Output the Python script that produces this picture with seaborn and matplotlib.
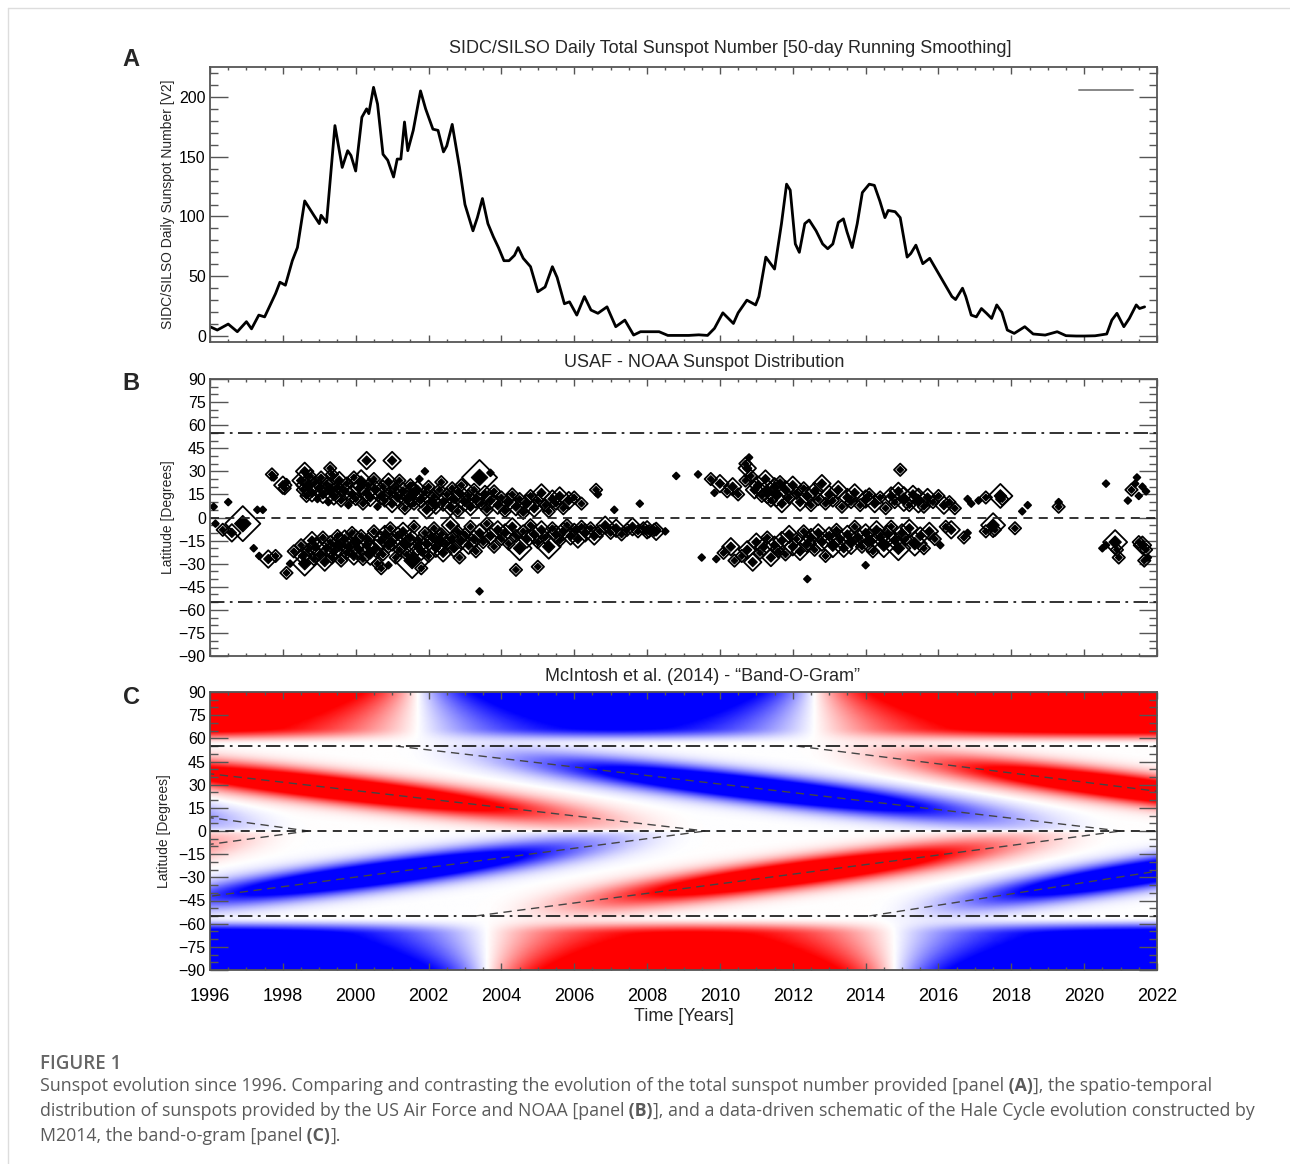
import numpy as np
import pandas as pd
import matplotlib.pyplot as plt
from matplotlib.lines import Line2D
from matplotlib.ticker import MultipleLocator
import seaborn as sns

# Panel A: SIDC/SILSO daily total sunspot number, 50-day smoothing
sn_year = [1996.0, 1996.2, 1996.5, 1996.75, 1997.0, 1997.14, 1997.34, 1997.5, 1997.8, 1997.92,
           1998.07, 1998.26, 1998.4, 1998.6, 1998.85, 1999.0, 1999.05, 1999.2, 1999.43, 1999.63,
           1999.78, 1999.87, 2000.0, 2000.17, 2000.3, 2000.36, 2000.49, 2000.6, 2000.75, 2000.88,
           2001.04, 2001.14, 2001.24, 2001.34, 2001.43, 2001.58, 2001.78, 2001.92, 2002.12, 2002.26,
           2002.41, 2002.5, 2002.65, 2002.85, 2003.0, 2003.22, 2003.34, 2003.48, 2003.63, 2003.78,
           2003.92, 2004.07, 2004.21, 2004.36, 2004.46, 2004.6, 2004.8, 2005.0, 2005.2, 2005.4,
           2005.53, 2005.73, 2005.87, 2006.07, 2006.28, 2006.46, 2006.65, 2006.9, 2007.14, 2007.39,
           2007.63, 2007.82, 2008.1, 2008.33, 2008.57, 2008.85, 2009.14, 2009.42, 2009.66, 2009.85,
           2010.08, 2010.37, 2010.5, 2010.74, 2010.98, 2011.07, 2011.26, 2011.5, 2011.69, 2011.83,
           2011.93, 2012.07, 2012.18, 2012.33, 2012.45, 2012.64, 2012.82, 2012.96, 2013.1, 2013.25,
           2013.39, 2013.49, 2013.63, 2013.77, 2013.91, 2014.1, 2014.24, 2014.39, 2014.53, 2014.62,
           2014.81, 2014.95, 2015.14, 2015.24, 2015.38, 2015.57, 2015.76, 2015.95, 2016.14, 2016.37,
           2016.47, 2016.66, 2016.75, 2016.9, 2017.04, 2017.18, 2017.32, 2017.46, 2017.6, 2017.74,
           2017.89, 2018.08, 2018.37, 2018.6, 2018.93, 2019.26, 2019.5, 2019.78, 2020.0, 2020.3,
           2020.62, 2020.76, 2020.9, 2021.09, 2021.24, 2021.43, 2021.52, 2021.66]
sn_value = [7.8, 5, 10, 3.6, 12, 6, 17.5, 16, 35.5, 45,
            42.5, 63, 74, 113, 101, 94, 101, 95, 176, 141,
            155, 151, 138, 183, 190, 186, 208, 194, 152, 147,
            133, 148, 148, 179, 155, 172, 205, 190, 173, 172,
            154, 159, 177, 141, 110, 88, 99, 115, 94, 83,
            74, 63, 63, 67.5, 74, 65, 58, 37, 41, 58,
            49, 27, 28.6, 17.5, 33, 21.7, 19, 24.4, 7.8, 13.3,
            0.8, 3.6, 3.6, 3.6, 0.5, 0.5, 0.5, 1, 0.5, 6.4,
            19.4, 10.5, 19.4, 30, 26, 33, 66, 56, 94, 127,
            122, 77, 70, 94, 97, 88, 77, 73, 77, 95,
            98, 87, 74, 94, 120, 127, 126, 113, 99, 105,
            104, 99, 66, 69, 76, 60.5, 65, 55, 45, 33,
            30.5, 40, 33, 17.5, 16, 23, 19, 14.7, 26, 20,
            5, 2.2, 7.8, 1.7, 0.8, 3.6, 0.3, 0, 0, 0.2,
            1.7, 13.3, 19, 7.8, 14.7, 26, 23, 24.4]

# Panel B: USAF/NOAA sunspot groups as (year, latitude, size class 1-5)
spots_cycle22 = [(1996.1, 7, 1), (1996.5, 10, 1), (1996.15, -4, 1), (1996.35, -8, 2),
                 (1996.6, -10, 3), (1996.9, -4, 5), (1996.9, -4, 2), (1997.3, 5, 1),
                 (1997.45, 5, 1), (1997.2, -20, 1), (1997.35, -25, 1)]
spots_north23 = [
    (1997.7, 28, 2), (1997.75, 26, 1), (1998.0, 21, 3), (1998.05, 19, 2), (1998.1, 23, 1),
    (1998.5, 24, 3), (1998.55, 18, 2), (1998.6, 30, 3), (1998.65, 14, 2), (1998.7, 21, 4),
    (1998.75, 27, 2), (1998.8, 16, 3), (1998.9, 23, 2), (1998.95, 12, 1), (1999.0, 19, 3),
    (1999.05, 26, 2), (1999.1, 15, 3), (1999.2, 22, 2), (1999.25, 10, 1), (1999.3, 18, 4),
    (1999.35, 28, 2), (1999.4, 14, 3), (1999.5, 20, 2), (1999.55, 24, 3), (1999.6, 11, 2),
    (1999.7, 17, 3), (1999.75, 22, 2), (1999.8, 8, 1), (1999.9, 15, 3), (1999.95, 26, 2),
    (2000.0, 12, 2), (2000.1, 19, 3), (2000.15, 23, 4), (2000.2, 9, 2), (2000.3, 16, 3),
    (2000.35, 21, 2), (2000.4, 13, 3), (2000.5, 25, 2), (2000.55, 18, 3), (2000.6, 7, 1),
    (2000.7, 14, 3), (2000.75, 20, 2), (2000.8, 11, 2), (2000.9, 23, 3), (2000.95, 16, 2),
    (2001.0, 9, 3), (2001.1, 19, 2), (2001.15, 13, 3), (2001.2, 24, 2), (2001.3, 17, 3),
    (2001.35, 6, 2), (2001.4, 12, 3), (2001.5, 21, 2), (2001.55, 15, 4), (2001.6, 9, 2),
    (2001.7, 18, 3), (2001.75, 25, 1), (2001.8, 12, 3), (2001.9, 16, 2), (2001.95, 5, 3),
    (2002.0, 20, 2), (2002.1, 11, 3), (2002.15, 14, 2), (2002.2, 8, 3), (2002.3, 18, 2),
    (2002.35, 23, 2), (2002.4, 10, 3), (2002.5, 15, 2), (2002.6, 7, 3), (2002.65, 19, 2),
    (2002.7, 12, 3), (2002.8, 4, 2), (2002.85, 16, 3), (2002.9, 21, 2), (2003.0, 10, 3),
    (2003.1, 14, 2), (2003.15, 7, 3), (2003.25, 18, 2), (2003.3, 12, 3), (2003.4, 26, 5),
    (2003.45, 9, 2), (2003.55, 15, 3), (2003.6, 5, 2), (2003.7, 11, 3), (2003.8, 17, 2),
    (2003.9, 8, 3), (2004.0, 13, 2), (2004.1, 4, 2), (2004.2, 10, 3), (2004.3, 15, 2),
    (2004.4, 7, 3), (2004.5, 12, 2), (2004.6, 3, 2), (2004.7, 9, 3), (2004.8, 14, 2),
    (2004.9, 6, 3), (2005.0, 11, 2), (2005.1, 16, 3), (2005.2, 8, 2), (2005.3, 4, 2),
    (2005.4, 12, 3), (2005.5, 9, 2), (2005.6, 14, 3), (2005.7, 6, 2), (2005.85, 11, 3),
    (2006.0, 13, 2), (2006.2, 9, 2), (2006.6, 18, 2), (2006.65, 15, 1), (2007.1, 5, 1),
    (2007.8, 9, 1), (2000.3, 37, 3), (2001.0, 37, 3), (1999.3, 32, 2), (2001.9, 30, 1),
    (2003.7, 29, 1)]
spots_south23 = [
    (1997.6, -27, 3), (1997.8, -25, 2), (1998.1, -36, 2), (1998.2, -30, 1), (1998.3, -22, 2),
    (1998.5, -18, 2), (1998.55, -25, 3), (1998.6, -30, 4), (1998.7, -21, 2), (1998.8, -15, 3),
    (1998.85, -27, 2), (1998.9, -19, 3), (1999.0, -24, 2), (1999.1, -13, 2), (1999.15, -29, 3),
    (1999.2, -20, 3), (1999.3, -16, 2), (1999.35, -26, 2), (1999.4, -22, 3), (1999.5, -12, 2),
    (1999.55, -18, 4), (1999.6, -28, 2), (1999.7, -14, 3), (1999.75, -23, 2), (1999.8, -19, 3),
    (1999.9, -10, 2), (1999.95, -25, 3), (2000.0, -16, 4), (2000.1, -21, 3), (2000.15, -12, 2),
    (2000.2, -27, 2), (2000.3, -18, 3), (2000.35, -14, 2), (2000.4, -23, 4), (2000.5, -9, 2),
    (2000.55, -20, 3), (2000.6, -30, 2), (2000.7, -15, 3), (2000.75, -24, 2), (2000.8, -11, 3),
    (2000.9, -19, 2), (2000.95, -7, 2), (2001.0, -16, 3), (2001.1, -26, 2), (2001.15, -12, 3),
    (2001.2, -21, 2), (2001.3, -9, 3), (2001.35, -17, 4), (2001.4, -24, 2), (2001.5, -13, 3),
    (2001.55, -28, 5), (2001.6, -6, 2), (2001.7, -19, 3), (2001.75, -15, 2), (2001.8, -22, 3),
    (2001.9, -10, 2), (2001.95, -17, 3), (2002.0, -25, 2), (2002.1, -13, 3), (2002.15, -7, 2),
    (2002.2, -20, 3), (2002.3, -15, 4), (2002.35, -11, 2), (2002.4, -23, 3), (2002.5, -17, 2),
    (2002.6, -5, 3), (2002.65, -13, 2), (2002.7, -20, 3), (2002.8, -9, 2), (2002.85, -26, 2),
    (2002.9, -15, 3), (2003.0, -11, 2), (2003.1, -18, 3), (2003.15, -6, 2), (2003.25, -14, 3),
    (2003.3, -22, 2), (2003.4, -10, 3), (2003.5, -16, 2), (2003.6, -4, 2), (2003.7, -12, 3),
    (2003.8, -19, 2), (2003.9, -8, 3), (2004.0, -14, 2), (2004.1, -10, 3), (2004.2, -17, 2),
    (2004.3, -6, 3), (2004.4, -12, 2), (2004.5, -20, 4), (2004.6, -9, 2), (2004.7, -14, 3),
    (2004.8, -5, 2), (2004.9, -11, 3), (2005.0, -16, 2), (2005.1, -8, 3), (2005.2, -13, 2),
    (2005.3, -19, 4), (2005.4, -7, 2), (2005.5, -11, 3), (2005.6, -15, 2), (2005.7, -9, 3),
    (2005.8, -5, 2), (2005.9, -12, 3), (2006.0, -8, 2), (2006.1, -14, 3), (2006.2, -6, 2),
    (2006.3, -10, 3), (2006.45, -7, 2), (2006.55, -12, 3), (2006.7, -9, 2), (2006.85, -5, 3),
    (2007.0, -10, 2), (2007.15, -7, 3), (2007.3, -11, 2), (2007.45, -8, 2), (2007.6, -6, 3),
    (2007.75, -9, 2), (2007.9, -7, 2), (2008.05, -9, 2), (2008.2, -8, 2), (2008.5, -9, 1),
    (2003.4, -48, 1), (2004.4, -34, 2), (2005.0, -32, 2), (2001.8, -33, 2), (2000.7, -33, 2),
    (2000.9, -31, 1)]
spots_north24 = [
    (2008.8, 27, 1), (2009.4, 28, 1), (2009.75, 25, 2), (2009.85, 16, 1), (2010.0, 22, 3),
    (2010.2, 17, 2), (2010.35, 20, 3), (2010.5, 15, 2), (2010.7, 24, 2), (2010.75, 32, 3),
    (2010.85, 27, 2), (2010.95, 18, 3), (2011.05, 21, 3), (2011.15, 14, 2), (2011.25, 25, 3),
    (2011.3, 17, 4), (2011.4, 11, 2), (2011.5, 20, 3), (2011.55, 15, 4), (2011.65, 23, 2),
    (2011.7, 9, 3), (2011.8, 18, 3), (2011.9, 13, 2), (2012.0, 21, 3), (2012.1, 16, 2),
    (2012.2, 10, 3), (2012.3, 19, 2), (2012.4, 14, 3), (2012.5, 8, 2), (2012.6, 17, 3),
    (2012.7, 12, 2), (2012.8, 22, 3), (2012.9, 9, 2), (2013.0, 15, 3), (2013.1, 11, 2),
    (2013.25, 18, 3), (2013.35, 7, 2), (2013.5, 13, 3), (2013.6, 10, 2), (2013.7, 16, 3),
    (2013.85, 8, 2), (2014.0, 12, 3), (2014.1, 15, 2), (2014.25, 9, 3), (2014.4, 13, 2),
    (2014.55, 6, 2), (2014.7, 14, 3), (2014.8, 10, 2), (2014.9, 17, 3), (2015.05, 12, 4),
    (2015.2, 8, 2), (2015.3, 15, 3), (2015.45, 11, 4), (2015.6, 7, 2), (2015.7, 13, 3),
    (2015.85, 10, 2), (2016.0, 14, 2), (2016.15, 8, 3), (2016.3, 10, 2), (2016.45, 6, 2),
    (2016.8, 12, 1), (2016.9, 9, 1), (2017.1, 11, 1), (2017.3, 13, 2), (2017.7, 14, 4),
    (2017.75, 12, 2), (2018.3, 4, 1), (2018.45, 8, 1), (2019.3, 7, 2), (2019.3, 10, 1),
    (2010.8, 39, 1), (2014.95, 31, 2), (2010.7, 35, 2)]
spots_south24 = [
    (2008.0, -8, 3), (2008.25, -9, 3), (2009.5, -26, 1), (2009.9, -27, 1), (2010.1, -23, 2),
    (2010.3, -19, 3), (2010.4, -28, 2), (2010.6, -25, 2), (2010.75, -21, 3), (2010.9, -29, 3),
    (2011.0, -16, 3), (2011.1, -23, 2), (2011.2, -19, 3), (2011.3, -13, 2), (2011.4, -26, 3),
    (2011.5, -18, 3), (2011.6, -22, 2), (2011.7, -15, 3), (2011.8, -24, 2), (2011.9, -11, 3),
    (2012.0, -19, 3), (2012.1, -14, 2), (2012.2, -22, 3), (2012.3, -9, 2), (2012.4, -17, 3),
    (2012.5, -13, 3), (2012.6, -21, 2), (2012.7, -10, 3), (2012.8, -16, 3), (2012.9, -25, 2),
    (2013.0, -12, 3), (2013.1, -18, 4), (2013.2, -8, 2), (2013.3, -14, 3), (2013.4, -20, 3),
    (2013.5, -11, 3), (2013.6, -16, 4), (2013.7, -6, 2), (2013.8, -13, 3), (2013.9, -19, 2),
    (2014.0, -10, 3), (2014.1, -15, 4), (2014.2, -22, 2), (2014.3, -8, 3), (2014.4, -13, 3),
    (2014.5, -18, 4), (2014.6, -11, 3), (2014.7, -6, 2), (2014.8, -15, 3), (2014.9, -20, 4),
    (2015.0, -10, 3), (2015.1, -14, 2), (2015.2, -7, 3), (2015.35, -17, 4), (2015.5, -12, 3),
    (2015.6, -20, 2), (2015.75, -9, 3), (2015.9, -14, 2), (2016.05, -18, 1), (2016.2, -6, 2),
    (2016.35, -8, 3), (2016.7, -13, 2), (2016.8, -10, 1), (2017.3, -9, 2), (2017.5, -5, 4),
    (2017.55, -8, 2), (2018.1, -7, 2), (2014.0, -31, 1), (2012.4, -40, 1)]
spots_cycle25 = [(2020.6, 22, 1), (2021.2, 11, 1), (2021.3, 18, 2), (2021.4, 22, 1),
                 (2021.45, 26, 1), (2021.5, 14, 1), (2021.6, 20, 1), (2021.7, 17, 1),
                 (2020.5, -20, 1), (2020.6, -18, 1), (2020.85, -16, 4), (2020.9, -21, 2),
                 (2020.95, -26, 2), (2021.5, -16, 2), (2021.6, -18, 3), (2021.7, -21, 2),
                 (2021.65, -28, 2), (2021.75, -26, 1)]
spot_sizes = {1: 12, 2: 40, 3: 80, 4: 150, 5: 320}
core_sizes = {1: 5, 2: 12, 3: 22, 4: 40, 5: 70}

# Panel C: band-o-gram - activity bands leave +-55 deg at band_start, reach the equator at band_end
band_hemisphere = ["N", "N", "N", "N", "S", "S", "S", "S"]
band_start = [1981.5, 1989.4, 2001.1, 2012.1, 1981.5, 1991.9, 2003.3, 2014.1]
band_end = [1998.7, 2009.6, 2021.0, 2030.7, 1998.7, 2009.6, 2021.0, 2029.1]
band_polarity = [-1, 1, -1, 1, 1, -1, 1, -1]
polar_hemisphere = ["N", "S"]
polar_first_sign = [1, -1]
polar_flip_1 = [2001.7, 2003.6]
polar_flip_2 = [2012.6, 2014.8]

lat_ticks = [-90, -75, -60, -45, -30, -15, 0, 15, 30, 45, 60, 75, 90]
year_ticks = [1996, 1998, 2000, 2002, 2004, 2006, 2008, 2010, 2012, 2014, 2016, 2018, 2020, 2022]

sns.set_theme(style="ticks")
plt.rcParams["font.family"] = ["Liberation Sans", "DejaVu Sans"]
plt.rcParams["axes.unicode_minus"] = True

W, H = 1290, 1164
fig = plt.figure(figsize=(W / 100, H / 100), dpi=100)


def px_axes(left, top, right, bottom):
    return fig.add_axes([left / W, 1 - bottom / H, (right - left) / W, (bottom - top) / H])


def idl_style(ax, ymaj, ymin):
    ax.set_xlim(1996, 2022)
    ax.xaxis.set_major_locator(MultipleLocator(2))
    ax.xaxis.set_minor_locator(MultipleLocator(0.5))
    ax.yaxis.set_major_locator(MultipleLocator(ymaj))
    ax.yaxis.set_minor_locator(MultipleLocator(ymin))
    ax.tick_params(which="both", direction="in", top=True, right=True,
                   color="#555555", width=1.0, labelcolor="black")
    ax.tick_params(axis="x", which="major", length=5, pad=13, labelsize=13)
    ax.tick_params(axis="x", which="minor", length=2.5)
    ax.tick_params(axis="y", which="major", length=13, pad=3, labelsize=11.5)
    ax.tick_params(axis="y", which="minor", length=6)
    for s in ax.spines.values():
        s.set_color("#555555")
        s.set_linewidth(1.3)
    ax.set_xlabel("")
    ax.set_ylabel("")


# ---------------- Panel A ----------------
axA = px_axes(210, 67, 1157, 342)
sunspots = pd.DataFrame({"year": sn_year, "ssn": sn_value})
sns.lineplot(data=sunspots, x="year", y="ssn", ax=axA, color="black", linewidth=2.0)
axA.set_ylim(-5, 225)
idl_style(axA, 50, 10)
axA.set_xticklabels([])
axA.set_ylabel("SIDC/SILSO Daily Sunspot Number [V2]", fontsize=10)
axA.yaxis.set_label_coords(-0.037, 0.5)
axA.text(0.549, 1.069, "SIDC/SILSO Daily Total Sunspot Number [50-day Running Smoothing]",
         transform=axA.transAxes, ha="center", va="center", fontsize=13)
axA.legend(handles=[Line2D([], [], color="#888888", lw=1.4)], labels=[""],
           loc="upper right", bbox_to_anchor=(0.975, 0.94), frameon=False,
           handlelength=3.9, handletextpad=0, borderpad=0, borderaxespad=0, fontsize=10)

# ---------------- Panel B ----------------
axB = px_axes(210, 379, 1157, 656)
groups = spots_cycle22 + spots_north23 + spots_south23 + spots_north24 + spots_south24 + spots_cycle25
spots = pd.DataFrame(groups, columns=["year", "lat", "size"])
sns.scatterplot(data=spots, x="year", y="lat", size="size", sizes=spot_sizes, marker="D",
                facecolor="none", edgecolor="black", linewidth=1.3, legend=False, ax=axB)
axB.collections[-1].set_facecolor("none")
sns.scatterplot(data=spots, x="year", y="lat", size="size", sizes=core_sizes, marker="D",
                color="black", edgecolor="black", linewidth=0.8, legend=False, ax=axB)
axB.axhline(55, color="#222222", lw=1.3, ls=(0, (8, 3, 1.5, 3)))
axB.axhline(-55, color="#222222", lw=1.3, ls=(0, (8, 3, 1.5, 3)))
axB.axhline(0, color="#222222", lw=1.3, ls=(0, (5, 3.5)))
axB.set_ylim(-90, 90)
idl_style(axB, 15, 5)
axB.set_yticks(lat_ticks)
axB.set_xticklabels([])
axB.set_ylabel("Latitude [Degrees]", fontsize=10)
axB.yaxis.set_label_coords(-0.037, 0.5)
axB.text(0.522, 1.061, "USAF - NOAA Sunspot Distribution",
         transform=axB.transAxes, ha="center", va="center", fontsize=13)

# ---------------- Panel C ----------------
axC = px_axes(210, 692, 1157, 970)
t = np.linspace(1996, 2022, 700)
lat = np.linspace(-90, 90, 450)
T, L = np.meshgrid(t, lat)
field = np.zeros_like(T)
for hemi, t0, t1, sgn in zip(band_hemisphere, band_start, band_end, band_polarity):
    h = 1 if hemi == "N" else -1
    phase = np.clip((T - t0) / (t1 - t0), 0, 1)
    amp = np.sin(np.pi * phase) ** 2
    centre = h * 55 * (1 - phase)
    side = 0.5 * (1 + np.tanh(h * L / 1.5))
    field += sgn * 1.7 * amp * side * np.exp(-0.5 * ((L - centre) / 6.5) ** 2)
for hemi, s0, f1, f2 in zip(polar_hemisphere, polar_first_sign, polar_flip_1, polar_flip_2):
    h = 1 if hemi == "N" else -1
    dist = np.clip((90 - h * L) / 30, 0, 1)
    tau = 1.5 + 3.0 * dist ** 1.2
    ramp = np.clip((h * L - 56) / 11, 0, 1)
    cap = ramp * ramp * (3 - 2 * ramp)
    flip = s0 * np.tanh((T - f1) / tau) * np.tanh((T - f2) / tau)
    field += 1.3 * cap * flip
axC.imshow(np.clip(field, -1, 1), extent=[1996, 2022, -90, 90], origin="lower",
           aspect="auto", cmap="bwr", vmin=-1, vmax=1, interpolation="bilinear")
for hemi, t0, t1 in zip(band_hemisphere, band_start, band_end):
    h = 1 if hemi == "N" else -1
    axC.plot([t0, t1], [h * 55, 0], color="#444444", lw=1.0, ls=(0, (6, 4)))
axC.axhline(55, color="#222222", lw=1.3, ls=(0, (8, 3, 1.5, 3)))
axC.axhline(-55, color="#222222", lw=1.3, ls=(0, (8, 3, 1.5, 3)))
axC.axhline(0, color="#222222", lw=1.3, ls=(0, (5, 3.5)))
axC.set_ylim(-90, 90)
idl_style(axC, 15, 5)
axC.set_yticks(lat_ticks)
axC.set_xticks(year_ticks)
axC.set_xticklabels([str(y) for y in year_ticks])
axC.set_xlim(1996, 2022)
axC.set_xlabel("Time [Years]", fontsize=13, labelpad=2)
axC.set_ylabel("Latitude [Degrees]", fontsize=10)
axC.yaxis.set_label_coords(-0.041, 0.5)
axC.text(0.52, 1.054, "McIntosh et al. (2014) - \u201cBand-O-Gram\u201d",
         transform=axC.transAxes, ha="center", va="center", fontsize=13)

# panel letters
for letter, ypix in zip(["A", "B", "C"], [60, 384, 698]):
    fig.text(131 / W, 1 - ypix / H, letter, ha="center", va="center",
             fontsize=17, fontweight="bold")

# page frame lines
fig.add_artist(Line2D([8 / W, 1], [1 - 8 / H, 1 - 8 / H], color="#dddddd", lw=1))
fig.add_artist(Line2D([8 / W, 8 / W], [0, 1 - 8 / H], color="#dddddd", lw=1))

# caption
cap_font = ["Open Sans", "DejaVu Sans"]
fig.text(40 / W, 1 - 1064 / H, "FIGURE 1", ha="left", va="center", fontsize=13.5,
         fontweight="semibold", color="#666666", family=cap_font)
renderer = fig.canvas.get_renderer()


def rich_line(ypix, parts):
    x = 40 / W
    for text, bold in parts:
        tx = fig.text(x, 1 - ypix / H, text, ha="left", va="center", fontsize=12.8,
                      fontweight="bold" if bold else "normal", color="#5a5a5a", family=cap_font)
        x += tx.get_window_extent(renderer).width / W


rich_line(1086, [("Sunspot evolution since 1996. Comparing and contrasting the evolution of the "
                  "total sunspot number provided [panel", False), (" (A)", True),
                 ("], the spatio-temporal", False)])
rich_line(1111, [("distribution of sunspots provided by the US Air Force and NOAA [panel", False),
                 (" (B)", True),
                 ("], and a data-driven schematic of the Hale Cycle evolution constructed by", False)])
rich_line(1136, [("M2014, the band-o-gram [panel", False), (" (C)", True), ("].", False)])

fig.savefig("out.png", dpi=100)
